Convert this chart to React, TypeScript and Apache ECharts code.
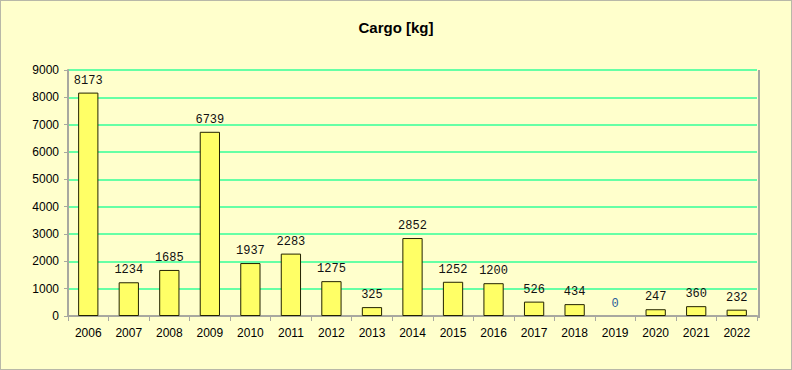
import React, { useEffect, useRef } from "react";
import * as echarts from "echarts";

const categories = ["2006","2007","2008","2009","2010","2011","2012","2013","2014","2015","2016","2017","2018","2019","2020","2021","2022"];
const cargoValues = [8173,1234,1685,6739,1937,2283,1275,325,2852,1252,1200,526,434,0,247,360,232];
const titleText = "Cargo [kg]";
const yMax = 9000;
const yInterval = 1000;

export default function App() {
  const ref = useRef<HTMLDivElement>(null);
  useEffect(() => {
    const chart = echarts.init(ref.current!, null, { renderer: "svg" });
    chart.setOption({
      animation: false,
      backgroundColor: "#FFFFCC",
      title: {
        text: titleText,
        left: "center",
        top: 14,
        textStyle: { fontFamily: "Liberation Sans", fontSize: 15, fontWeight: "bold", color: "#000" },
      },
      grid: { left: 67, right: 34, top: 69, bottom: 53, containLabel: false },
      xAxis: {
        type: "category",
        data: categories,
        axisLine: { lineStyle: { color: "#A8A8A0", width: 2 } },
        axisTick: { show: true, alignWithLabel: false, length: 5, lineStyle: { color: "#A8A8A0" } },
        axisLabel: { color: "#000", fontFamily: "Liberation Sans", fontSize: 12, margin: 11 },
        splitLine: { show: false },
      },
      yAxis: {
        type: "value",
        min: 0,
        max: yMax,
        interval: yInterval,
        axisLine: { show: true, lineStyle: { color: "#A8A8A0", width: 2 } },
        axisTick: { show: true, length: 4, lineStyle: { color: "#A8A8A0" } },
        axisLabel: {
          color: "#000",
          fontFamily: "Liberation Sans",
          fontSize: 12,
          margin: 9,
          formatter: (v: number) => String(v),
        },
        splitLine: { show: true, lineStyle: { color: "#33FF99", width: 1.5 } },
      },
      series: [
        {
          type: "bar",
          data: cargoValues.map((v) =>
            v === 0
              ? { value: v, label: { color: "#2A5C9A" }, itemStyle: { borderWidth: 0 } }
              : v
          ),
          barWidth: "50%",
          itemStyle: { color: "#FFFF66", borderColor: "#222200", borderWidth: 1 },
          label: {
            show: true,
            position: "top",
            distance: 6,
            color: "#111",
            fontFamily: "Liberation Mono",
            fontSize: 12,
          },
        },
      ],
      graphic: [
        {
          type: "line",
          shape: { x1: 758, y1: 69, x2: 758, y2: 317 },
          style: { stroke: "#A8A8A0", lineWidth: 2 },
        },
      ],
    });
    return () => chart.dispose();
  }, []);
  return (
    <div
      ref={ref}
      style={{
        position: "absolute",
        left: 0,
        top: 0,
        width: 792,
        height: 370,
        border: "1px solid #B8B8A8",
        boxSizing: "border-box",
      }}
    />
  );
}
